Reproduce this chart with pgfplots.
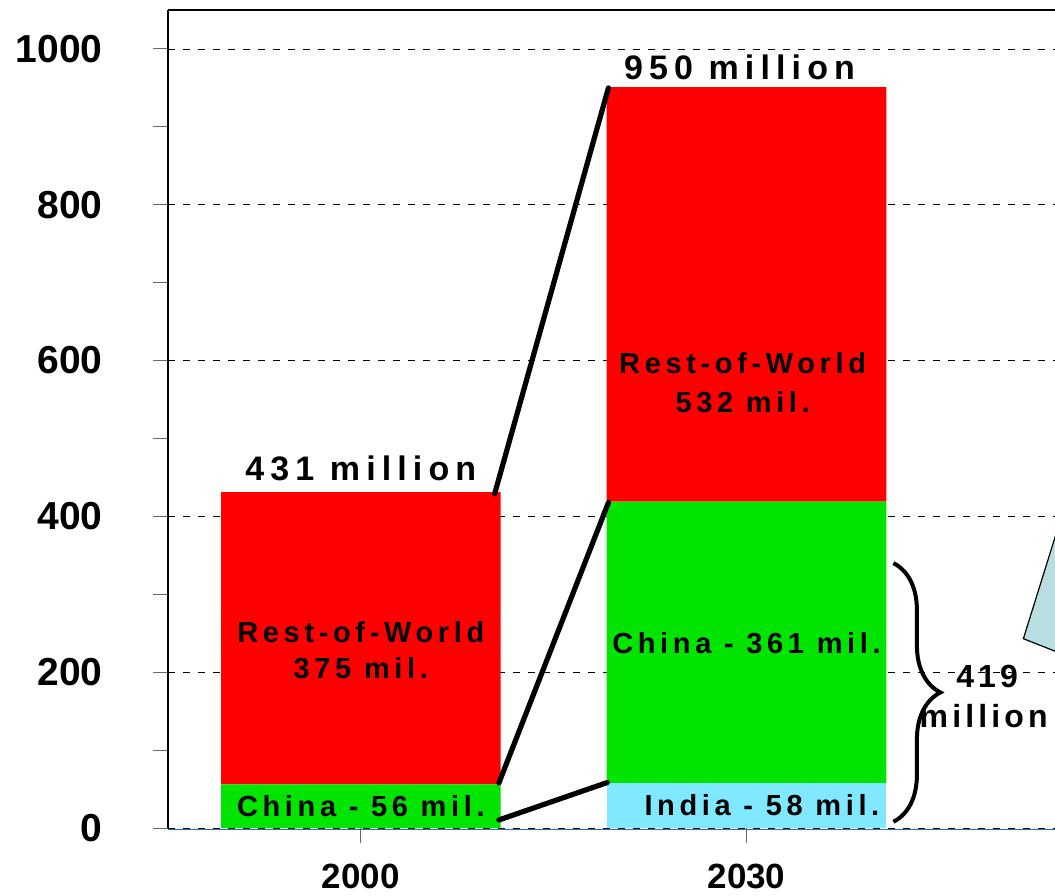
\documentclass[border=0pt]{standalone}
\usepackage{fontspec}
\setmainfont{Liberation Sans}
\usepackage{pgfplots}
\pgfplotsset{compat=1.18}
\usetikzlibrary{decorations.pathreplacing}

\definecolor{rowred}{RGB}{255,0,0}
\definecolor{chgreen}{RGB}{0,228,0}
\definecolor{inblue}{RGB}{128,232,255}
\definecolor{callout}{RGB}{184,222,226}
\definecolor{baseblue}{RGB}{40,110,180}

\newcommand\lbl{\bfseries\fontsize{14.5}{17}\selectfont\addfontfeature{LetterSpace=16}}
\newcommand\totlbl{\bfseries\fontsize{17}{20}\selectfont\addfontfeature{LetterSpace=18}}
\newcommand\bracelbl{\bfseries\fontsize{16}{19}\selectfont\addfontfeature{LetterSpace=13}}

\begin{document}
\begin{tikzpicture}
\begin{axis}[
    scale only axis,
    width=443.5pt, height=409pt,
    xmin=-0.5, xmax=1.8,
    ymin=0, ymax=1050,
    axis x line=box, axis y line=left,
    x axis line style={draw=none},
    y axis line style={-, line width=1pt},
    ybar stacked,
    bar width=0.725,
    xtick={0,1},
    xticklabels={2000,2030},
    xtick pos=left,
    ytick={0,200,...,1000},
    minor y tick num=1,
    tick align=outside,
    major tick length=7.5pt,
    minor tick length=7.5pt,
    tick style={black!60, line width=0.5pt},
    ymajorgrids=true,
    major grid style={black, dash pattern=on 3.5pt off 4pt, line width=0.4pt},
    /pgf/number format/assume math mode=true,
    /pgf/number format/1000 sep={},
    yticklabel style={font=\bfseries\fontsize{19.5}{20}\selectfont, anchor=east, inner sep=0pt, xshift=-25pt},
    xticklabel style={font=\bfseries\fontsize{17.5}{18}\selectfont, anchor=north, inner sep=0pt, yshift=-10.5pt},
    clip=false,
]
% India (only in 2030)
\addplot[fill=inblue, draw=none] coordinates {(0,0) (1,58)};
% China
\addplot[fill=chgreen, draw=none] coordinates {(0,56) (1,361)};
% Rest of World
\addplot[fill=rowred, draw=none] coordinates {(0,375) (1,532)};

% anchor points for the annotations, drawn after the axis
\coordinate (tl) at (rel axis cs:0,1);
\coordinate (tr) at (rel axis cs:1,1);
\coordinate (bl) at (axis cs:-0.5,-1.5);
\coordinate (br) at (axis cs:1.8,-1.5);
\coordinate (l1a) at (axis cs:0.347,429);
\coordinate (l1b) at (axis cs:0.642,950);
\coordinate (l2a) at (axis cs:0.358,57.8);
\coordinate (l2b) at (axis cs:0.642,417.7);
\coordinate (l3a) at (axis cs:0.358,10.3);
\coordinate (l3b) at (axis cs:0.639,58.4);
\coordinate (bra) at (axis cs:1.381,340);
\coordinate (brb) at (axis cs:1.381,8);
\coordinate (t419) at (axis cs:1.624,195);
\coordinate (tmil) at (axis cs:1.448,144);
\coordinate (c1) at (axis cs:1.81,389);
\coordinate (c2) at (axis cs:1.718,243);
\coordinate (c3) at (axis cs:1.81,225);
\coordinate (t431) at (axis cs:0,462);
\coordinate (t950) at (axis cs:0.982,977);
\coordinate (r1a) at (axis cs:0,252);
\coordinate (r1b) at (axis cs:0,205);
\coordinate (r2a) at (axis cs:0.99,597);
\coordinate (r2b) at (axis cs:0.99,546);
\coordinate (ch2) at (axis cs:1.0,237);
\coordinate (in2) at (axis cs:1.04,29.5);
\coordinate (ch1) at (axis cs:0,28);
\end{axis}

\draw[line width=1pt] (tl) -- (tr);
\draw[baseblue, line width=0.5pt] (bl) -- (br);

% connector lines
\draw[line width=2.6pt, line cap=round] (l1a) -- (l1b);
\draw[line width=2.6pt, line cap=round] (l2a) -- (l2b);
\draw[line width=2.6pt, line cap=round] (l3a) -- (l3b);

% brace and total
\draw[decorate, decoration={brace, amplitude=23.5pt}, line width=2pt] (bra) -- (brb);
\node[font=\bracelbl] at (t419) {419};
\node[font=\bracelbl, anchor=west, inner sep=0pt] at (tmil) {million};

% callout fragment at right edge
\draw[fill=callout, line width=0.6pt] (c1) -- (c2) -- (c3);

% labels
\node[font=\totlbl] at (t431) {431 million};
\node[font=\totlbl] at (t950) {950 million};
\node[font=\lbl] at (r1a) {Rest-of-World};
\node[font=\lbl] at (r1b) {375 mil.};
\node[font=\lbl] at (r2a) {Rest-of-World};
\node[font=\lbl] at (r2b) {532 mil.};
\node[font=\lbl] at (ch2) {China - 361 mil.};
\node[font=\lbl] at (in2) {India - 58 mil.};
\node[font=\lbl] at (ch1) {China - 56 mil.};

\pgfresetboundingbox
\path[use as bounding box] (-84pt,-33.5pt) rectangle (443.5pt,414pt);
\end{tikzpicture}
\end{document}
